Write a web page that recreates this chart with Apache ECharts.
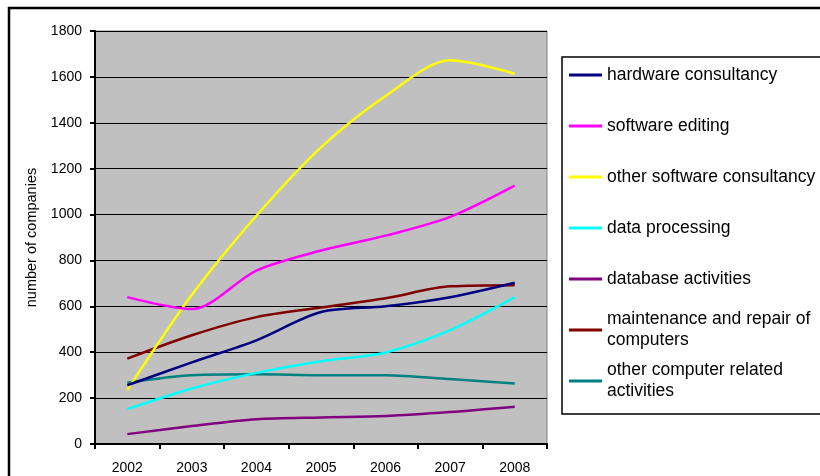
<!DOCTYPE html>
<html>
<head>
<meta charset="utf-8">
<script src="https://cdn.jsdelivr.net/npm/echarts@6/dist/echarts.min.js"></script>
<style>
html, body { margin: 0; padding: 0; background: #fff; }
#chart { width: 820px; height: 476px; }
</style>
</head>
<body>
<div id="chart"></div>
<script>
// data
var years = ['2002', '2003', '2004', '2005', '2006', '2007', '2008'];
var hardware = [256, 356, 452, 575, 600, 640, 703];
var softwareEditing = [640, 588, 756, 843, 908, 990, 1126];
var otherSoftware = [235, 650, 995, 1293, 1517, 1672, 1614];
var dataProcessing = [152, 242, 310, 361, 399, 496, 640];
var databaseAct = [43, 78, 108, 116, 122, 139, 162];
var maintenance = [372, 474, 553, 595, 635, 687, 692];
var otherComputer = [267, 300, 304, 300, 300, 283, 264];
var yTicks = [0, 200, 400, 600, 800, 1000, 1200, 1400, 1600, 1800];

var seriesNames = ['hardware consultancy', 'software editing', 'other software consultancy',
    'data processing', 'database activities', 'maintenance and repair of computers',
    'other computer related activities'];
var legendLabels = ['hardware consultancy', 'software editing', 'other software consultancy',
    'data processing', 'database activities', 'maintenance and repair of\ncomputers',
    'other computer related\nactivities'];
var seriesData = [hardware, softwareEditing, otherSoftware, dataProcessing, databaseAct, maintenance, otherComputer];
var colors = ['#000080', '#FF00FF', '#FFFF00', '#00FFFF', '#800080', '#800000', '#008080'];

var font = 'Liberation Sans, Arial, sans-serif';
var chart = echarts.init(document.getElementById('chart'));

// legend rows, first text line centred on these y values
var rowY = [75, 126, 177, 228, 279, 330, 381];
var legends = seriesNames.map(function (name, i) {
    var twoLines = legendLabels[i].indexOf('\n') >= 0;
    var lh = twoLines ? 21 : 19;
    return {
        data: [name],
        left: 569,
        top: twoLines ? rowY[i] - lh * 1.5 : rowY[i] - lh / 2,
        padding: 0,
        icon: 'rect',
        itemWidth: 33,
        itemHeight: 3,
        itemGap: 0,
        selectedMode: false,
        formatter: function () { return legendLabels[i]; },
        textStyle: {
            fontFamily: font, fontSize: 17.5, color: '#000',
            lineHeight: lh,
            padding: twoLines ? [lh, 0, 0, 0] : 0
        }
    };
});

var option = {
    animation: false,
    color: colors,
    grid: {
        left: 95, top: 31, right: 273, bottom: 32,
        show: true,
        backgroundColor: '#C0C0C0',
        borderColor: '#808080',
        borderWidth: 1
    },
    legend: legends,
    graphic: [
        { type: 'rect', shape: { x: 9, y: 8, width: 830, height: 490 },
          style: { fill: 'none', stroke: '#000', lineWidth: 2.5 }, silent: true },
        { type: 'rect', shape: { x: 562, y: 57, width: 270, height: 357 },
          style: { fill: 'none', stroke: '#000', lineWidth: 1.5 }, silent: true }
    ],
    xAxis: {
        type: 'category',
        data: years,
        boundaryGap: true,
        axisLine: { lineStyle: { color: '#000', width: 2 } },
        axisTick: { show: true, length: 5, lineStyle: { color: '#000', width: 2 } },
        axisLabel: { fontFamily: font, fontSize: 14, color: '#000', margin: 17 },
        splitLine: { show: false }
    },
    yAxis: {
        type: 'value',
        min: yTicks[0],
        max: yTicks[yTicks.length - 1],
        interval: 200,
        name: 'number of companies',
        nameLocation: 'middle',
        nameGap: 43,
        nameTextStyle: { fontFamily: font, fontSize: 14.5, color: '#000' },
        axisLine: { show: true, lineStyle: { color: '#000', width: 2 } },
        axisTick: { show: true, length: 5, lineStyle: { color: '#000', width: 2 } },
        axisLabel: {
            fontFamily: font, fontSize: 14, color: '#000', margin: 13,
            formatter: function (v) { return String(v); }
        },
        splitLine: { show: true, lineStyle: { color: '#000', width: 1.2 } }
    },
    series: seriesNames.map(function (name, i) {
        return {
            name: name,
            type: 'line',
            data: seriesData[i],
            smooth: 0.3,
            showSymbol: false,
            symbol: 'none',
            lineStyle: { width: 2.5, color: colors[i] },
            itemStyle: { color: colors[i] },
            z: 2 + (seriesNames.length - i)
        };
    })
};

chart.setOption(option);
</script>
</body>
</html>
